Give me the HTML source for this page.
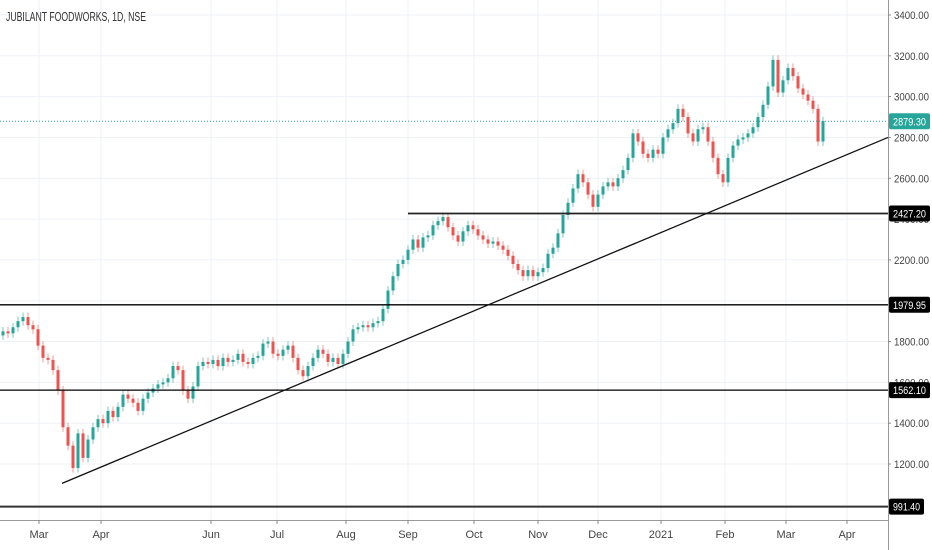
<!DOCTYPE html>
<html><head><meta charset="utf-8">
<style>
body{margin:0;background:#fff;}
svg{display:block;font-family:"Liberation Sans",sans-serif;}
</style></head>
<body>
<svg id="chart" width="932" height="550">
  <rect x="0" y="0" width="932" height="550" fill="#fff"/>
  <g id="grid"></g>
  <g id="candles"></g>
  <g id="overlays"></g>
  <g id="axes"></g>
  <text x="6" y="21" font-size="12.5" fill="#333" textLength="140" lengthAdjust="spacingAndGlyphs">JUBILANT FOODWORKS, 1D, NSE</text>
</svg>
<script>
const closes=[1850,1840,1870,1900,1920,1880,1860,1780,1720,1710,1660,1560,1380,1290,1180,1350,1230,1320,1380,1420,
1400,1460,1430,1480,1540,1520,1500,1460,1520,1550,1570,1590,1600,1620,1680,1660,1560,1520,1580,1680,
1700,1690,1710,1680,1720,1700,1710,1740,1700,1690,1720,1730,1790,1800,1740,1730,1760,1780,1720,1660,
1630,1680,1720,1760,1740,1700,1720,1690,1740,1800,1860,1870,1880,1870,1890,1900,1960,2050,2120,2180,
2200,2250,2300,2260,2310,2320,2370,2390,2410,2360,2320,2290,2340,2370,2350,2320,2300,2280,2290,2270,
2250,2220,2180,2150,2120,2150,2120,2140,2160,2230,2260,2330,2420,2480,2550,2620,2580,2520,2460,2520,
2560,2580,2560,2600,2640,2700,2820,2780,2720,2700,2740,2720,2800,2840,2870,2940,2900,2820,2780,2840,
2850,2780,2700,2620,2580,2700,2760,2790,2800,2820,2850,2900,2960,3050,3180,3020,3080,3140,3100,3040,
3010,2980,2940,2780,2880];
const firstOpen=1830;
const priceTicks=[1200,1400,1600,1800,2000,2200,2400,2600,2800,3000,3200,3400];
const levelLines=[1979.95,1562.10,991.40];
const resistance=2427.20;
const lastPrice=2879.30;
const months=["Mar","Apr","Jun","Jul","Aug","Sep","Oct","Nov","Dec","2021","Feb","Mar","Apr"];
const monthBar=[7.2,19.6,41.6,54.8,68.6,81,94.2,107,119,131.6,144.4,156.6,168.8];
const trendStart=[11.8,1105];
const trendEnd=[177,2800];

const NS="http://www.w3.org/2000/svg";
const PR=888;
function y(p){return 464-(p-1200)*0.2041;}
function x(i){return 3+i*5;}
function el(tag,attrs,parent){const e=document.createElementNS(NS,tag);for(const k in attrs)e.setAttribute(k,attrs[k]);parent.appendChild(e);return e;}
const grid=document.getElementById('grid'),cg=document.getElementById('candles'),ov=document.getElementById('overlays'),ax=document.getElementById('axes');

priceTicks.forEach(p=>{
  const l=el('line',{x1:0,x2:PR,y1:y(p),y2:y(p),stroke:'#eef1f6','stroke-width':1},grid);
  
  
});
monthBar.forEach(b=>{
  const l=el('line',{x1:x(b),x2:x(b),y1:0,y2:520,stroke:'#eef1f6','stroke-width':1},grid);
  
  
});

closes.forEach((c,i)=>{
  const o=i===0?firstOpen:closes[i-1];
  const up=c>=o;
  const col=up?'#26a69a':'#ef5350';
  const hi=Math.max(o,c)+22, lo=Math.min(o,c)-22;
  const g=el('g',{},cg);
  
  
  el('line',{x1:x(i),x2:x(i),y1:y(hi),y2:y(lo),stroke:col,'stroke-opacity':0.6,'stroke-width':1},g);
  const top=y(Math.max(o,c)), h=Math.max(1,y(Math.min(o,c))-top);
  el('rect',{x:x(i)-1.5,y:top,width:3,height:h,fill:col},g);
});

const lp=el('line',{x1:0,x2:PR,y1:y(lastPrice),y2:y(lastPrice),stroke:'#26a69a','stroke-width':1,'stroke-dasharray':'1,2'},ov);


levelLines.forEach((p,k)=>{
  const l=el('line',{x1:0,x2:PR,y1:y(p),y2:y(p),stroke:k===2?'#333':'#000','stroke-width':k===2?2:1.3},ov);
  
  
});
const rl=el('line',{x1:408,x2:PR,y1:y(resistance),y2:y(resistance),stroke:'#222','stroke-width':1.8},ov);


const tl=el('line',{x1:x(trendStart[0]),y1:y(trendStart[1]),x2:x(trendEnd[0]),y2:y(trendEnd[1]),stroke:'#111','stroke-width':1.3},ov);



el('rect',{x:PR,y:0,width:44,height:550,fill:'#fff'},ax);
el('rect',{x:0,y:520,width:PR,height:30,fill:'#fff'},ax);
el('line',{x1:PR+0.5,x2:PR+0.5,y1:0,y2:550,stroke:'#999','stroke-width':1},ax);
el('line',{x1:0,x2:PR,y1:520.5,y2:520.5,stroke:'#999','stroke-width':1},ax);
priceTicks.forEach(p=>{
  el('line',{x1:PR,x2:PR+3,y1:y(p),y2:y(p),stroke:'#888'},ax);
  const t=el('text',{x:PR+6,y:y(p)+4,'font-size':11,fill:'#444',textLength:35,lengthAdjust:'spacingAndGlyphs'},ax);
  t.textContent=p.toFixed(2);
  
  
});
months.forEach((m,k)=>{
  el('line',{x1:x(monthBar[k]),x2:x(monthBar[k]),y1:520,y2:524,stroke:'#888'},ax);
  const t=el('text',{x:x(monthBar[k]),y:538,'font-size':11,fill:'#444','text-anchor':'middle'},ax);
  t.textContent=m;
  
  
});
function tag(p,bg,label){
  const g=el('g',{},ax);
  
  
  const txt=p.toFixed(2);
  const w=txt.length>6?33:27;
  el('rect',{x:PR+1,y:y(p)-8,width:w+8,height:16,fill:bg,rx:2},g);
  const t=el('text',{x:PR+5,y:y(p)+4,'font-size':11,fill:'#fff',textLength:w,lengthAdjust:'spacingAndGlyphs'},g);
  t.textContent=txt;
}
tag(lastPrice,'#26a69a','last-price-tag');
tag(resistance,'#000','resistance-price-tag');
levelLines.forEach(p=>tag(p,'#000','level-price-tag'));
</script>
</body></html>
